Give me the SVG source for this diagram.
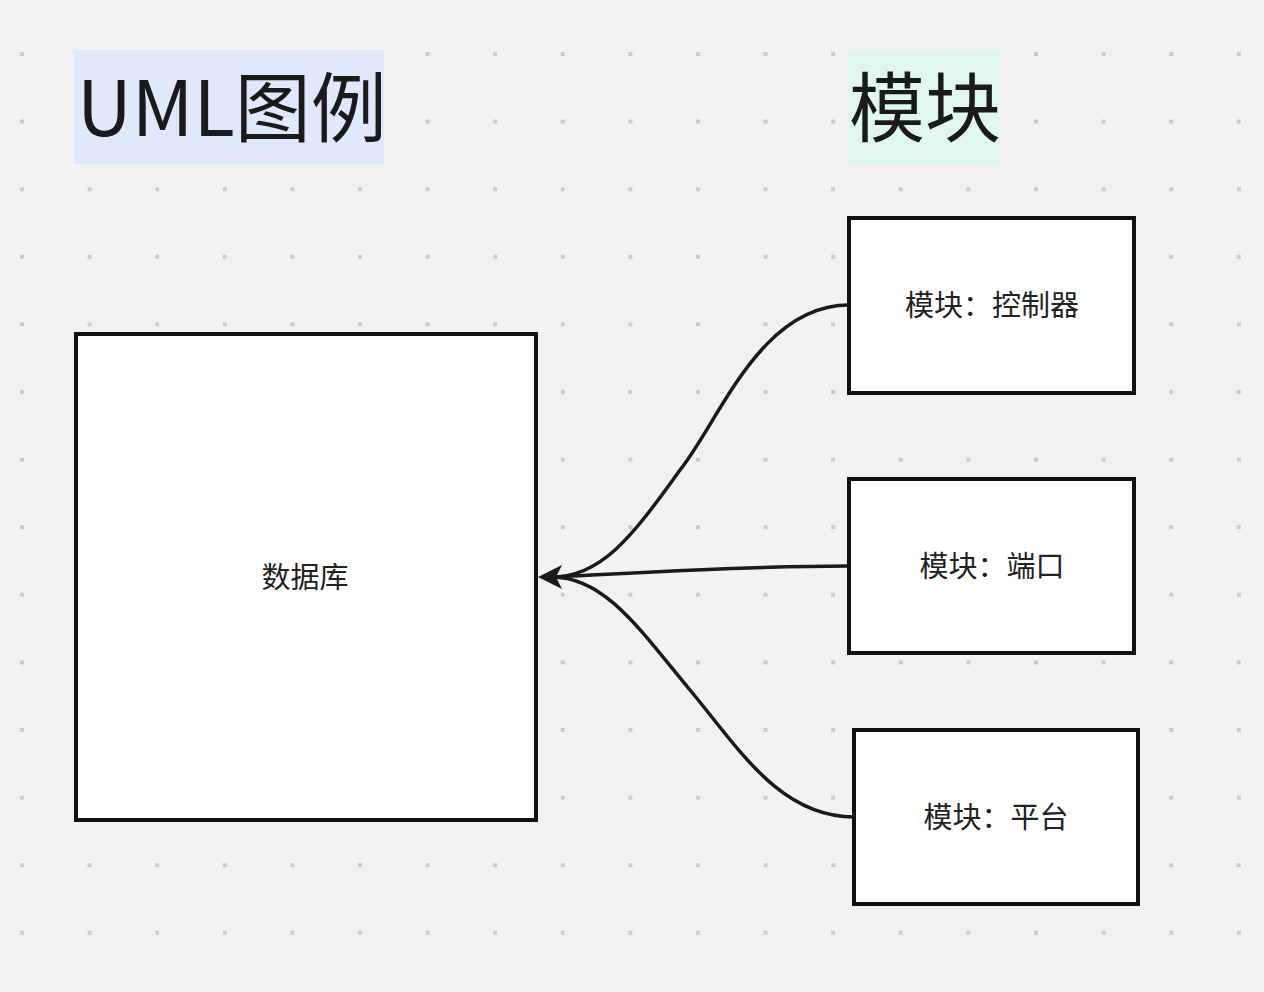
<svg xmlns="http://www.w3.org/2000/svg" width="1264" height="992" viewBox="0 0 1264 992">
<defs>
<pattern id="dots" x="20" y="52" width="67.6" height="67.6" patternUnits="userSpaceOnUse">
<rect x="0" y="0" width="4" height="4" fill="#cbcbcd"/>
</pattern>
<style>
.box{fill:#ffffff;stroke:#111111;stroke-width:4}
.lbl{font-family:"Noto Sans CJK SC","Noto Sans",sans-serif;font-size:29px;fill:#222222;text-anchor:middle;dominant-baseline:central}
.title{font-family:"Noto Sans CJK SC","Noto Sans",sans-serif;font-size:76px;fill:#1a1a1a}
.conn{fill:none;stroke:#1a1a1a;stroke-width:3.5}
.head{fill:#1a1a1a}
</style>
</defs>
<rect width="1264" height="992" fill="#f2f2f4"/>
<rect width="1264" height="992" fill="url(#dots)"/>
<g id="title-uml">
<rect x="74" y="50" width="310" height="114" fill="#e0e9fc"/>
<text class="title" x="77" y="136">UML图例</text>
</g>
<g id="title-module">
<rect x="848" y="50" width="152" height="114" fill="#e0f7ee"/>
<text class="title" x="849" y="136">模块</text>
</g>
<g id="node-db">
<rect class="box" x="76" y="334" width="460" height="486"/>
<text class="lbl" x="305" y="575">数据库</text>
</g>
<g id="node-controller">
<rect class="box" x="849" y="218" width="285" height="175"/>
<text class="lbl" x="992" y="303">模块：控制器</text>
</g>
<g id="node-port">
<rect class="box" x="849" y="479" width="285" height="174"/>
<text class="lbl" x="992" y="564">模块：端口</text>
</g>
<g id="node-platform">
<rect class="box" x="854" y="730" width="284" height="174"/>
<text class="lbl" x="996" y="815">模块：平台</text>
</g>
<g id="connectors">
<path class="conn" d="M849,305 C760,305 720,420 680,470 C630,540 600,577 552,577"/>
<path class="conn" d="M849,566 C740,566 640,573 552,577"/>
<path class="conn" d="M854,817 C780,817 740,750 690,690 C640,630 605,577 552,577"/>
<path class="head" d="M538,577 L562,565 L556,577 L562,589 Z"/>
</g>
</svg>
